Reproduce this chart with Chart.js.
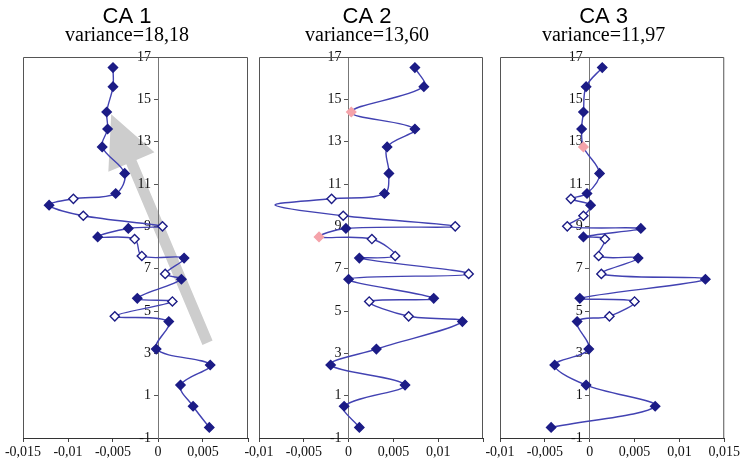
<!DOCTYPE html>
<html>
<head>
<meta charset="utf-8">
<script src="https://cdn.jsdelivr.net/npm/chart.js@4.4.1/dist/chart.umd.min.js"></script>
<style>
body { margin: 0; background: #fff; width: 742px; height: 464px; position: relative; overflow: hidden; }
canvas { position: absolute; top: 0; }
</style>
</head>
<body>
<canvas id="ca1" width="270" height="464" style="left:0px"></canvas>
<canvas id="ca2" width="270" height="464" style="left:235px"></canvas>
<canvas id="ca3" width="266" height="464" style="left:476px"></canvas>
<script>
// sample depths (y), same for the three axes
const depth = [16.5, 15.6, 14.4, 13.6, 12.75, 11.5, 10.55, 10.3, 10.0, 9.5, 9.0, 8.9, 8.5, 8.4,
  7.6, 7.5, 6.75, 6.5, 5.6, 5.45, 4.75, 4.5, 3.2, 2.45, 1.5, 0.5, -0.5];

const ca1 = [-0.0050, -0.0050, -0.0057, -0.0056, -0.0062, -0.0037, -0.0047, -0.0094, -0.0121, -0.0083,
  0.0005, -0.0033, -0.0067, -0.0026, -0.0018, 0.0029, 0.0008, 0.0026, -0.0023, 0.0016,
  -0.0048, 0.0012, -0.0002, 0.0058, 0.0025, 0.0039, 0.0057];
const ca2 = [0.0074, 0.0084, 0.0003, 0.0074, 0.0043, 0.0045, 0.0040, -0.0019, -0.0082, -0.0006,
  0.0119, -0.0003, -0.0033, 0.0026, 0.0052, 0.0012, 0.0134, 0.0000, 0.0095, 0.0023,
  0.0067, 0.0127, 0.0031, -0.0020, 0.0063, -0.0005, 0.0012];
const ca3 = [0.0014, -0.0004, -0.0007, -0.0009, -0.0007, 0.0011, -0.0003, -0.0021, 0.0001, -0.0007,
  -0.0025, 0.0057, -0.0007, 0.0017, 0.0010, 0.0054, 0.0013, 0.0129, -0.0011, 0.0050,
  0.0022, -0.0014, -0.0001, -0.0039, -0.0004, 0.0073, -0.0043];

const titles = ['CA 1', 'CA 2', 'CA 3'];
const variances = ['variance=18,18', 'variance=13,60', 'variance=11,97'];
const yTicks = [-1, 1, 3, 5, 7, 9, 11, 13, 15, 17];

// trend arrow on CA 1 (tail, head) in data units
const trendFrom = [0.0055, 3.5];
const trendTo = [-0.0052, 14.3];

// marker kinds per point: f filled, o open, p pink, n none
const kind1 = 'fffffffofooffoofoffooffffff';
const kind2 = 'ffpffffonoofpoofoffooffffff';
const kind3 = 'ffffpffofooffoofoffooffffff';

const navy = '#1c1c86';
const lineBlue = '#4242b2';
const pink = '#f5a3aa';

function fmt(v) {
  const r = Math.round(v * 1000) / 1000;
  return r === 0 ? '0' : String(r).replace('.', ',');
}

const titlePlugin = {
  id: 'panelTitle',
  afterDraw(chart, args, opts) {
    const ctx = chart.ctx;
    const a = chart.chartArea;
    const cx = (a.left + a.right) / 2 + opts.shift;
    ctx.save();
    ctx.fillStyle = '#000';
    ctx.textAlign = 'center';
    ctx.textBaseline = 'alphabetic';
    ctx.font = '22px "Liberation Sans"';
    ctx.fillText(opts.title, cx, 23);
    ctx.font = '20px "Liberation Serif"';
    ctx.fillText(opts.subtitle, cx, 41);
    ctx.restore();
  }
};

const framePlugin = {
  id: 'frame',
  beforeDatasetsDraw(chart) {
    const ctx = chart.ctx;
    const a = chart.chartArea;
    ctx.save();
    ctx.strokeStyle = '#555';
    ctx.lineWidth = 1;
    ctx.beginPath();
    ctx.moveTo(a.left + 0.5, a.bottom);
    ctx.lineTo(a.left + 0.5, a.top + 0.5);
    ctx.lineTo(a.right - 0.5, a.top + 0.5);
    ctx.lineTo(a.right - 0.5, a.bottom);
    ctx.stroke();
    ctx.restore();
  }
};

// drawn before the scales so the axis labels stay on top of it
const arrowPlugin = {
  id: 'trendArrow',
  beforeDraw(chart, args, opts) {
    if (!opts.show) return;
    const xs = chart.scales.x, ys = chart.scales.y;
    const x0 = xs.getPixelForValue(trendFrom[0]), y0 = ys.getPixelForValue(trendFrom[1]);
    const x1 = xs.getPixelForValue(trendTo[0]), y1 = ys.getPixelForValue(trendTo[1]);
    const len = Math.hypot(x1 - x0, y1 - y0);
    const ux = (x1 - x0) / len, uy = (y1 - y0) / len;
    const nx = -uy, ny = ux;
    const head = 52, hw = 25, sw = 5.5;
    const bx = x1 - ux * head, by = y1 - uy * head;
    const ctx = chart.ctx;
    ctx.save();
    ctx.fillStyle = '#cdcdcd';
    ctx.beginPath();
    ctx.moveTo(x0 + nx * sw, y0 + ny * sw);
    ctx.lineTo(bx + nx * sw, by + ny * sw);
    ctx.lineTo(bx + nx * hw, by + ny * hw);
    ctx.lineTo(x1, y1);
    ctx.lineTo(bx - nx * hw, by - ny * hw);
    ctx.lineTo(bx - nx * sw, by - ny * sw);
    ctx.lineTo(x0 - nx * sw, y0 - ny * sw);
    ctx.closePath();
    ctx.fill();
    ctx.restore();
  }
};

function makePanel(id, xs, kinds, idx, xMin, xMax, pad, shift, hideLast) {
  const pts = xs.map((v, i) => ({x: v, y: depth[i]}));
  const bg = [], bc = [], rad = [];
  for (let i = 0; i < pts.length; i++) {
    const k = kinds[i];
    bg.push(k === 'o' ? '#ffffff' : k === 'p' ? pink : navy);
    bc.push(k === 'p' ? pink : navy);
    rad.push(k === 'n' ? 0 : 4.6);
  }
  new Chart(document.getElementById(id), {
    type: 'scatter',
    data: {
      datasets: [{
        data: pts,
        showLine: true,
        borderColor: lineBlue,
        borderWidth: 1.4,
        tension: 0.35,
        pointStyle: 'rectRot',
        pointRadius: rad,
        pointBackgroundColor: bg,
        pointBorderColor: bc,
        pointBorderWidth: 1.4
      }]
    },
    options: {
      responsive: false,
      animation: false,
      events: [],
      layout: {padding: {left: pad[0], right: pad[1], top: 57, bottom: 0}},
      scales: {
        x: {
          type: 'linear',
          position: 'bottom',
          min: xMin,
          max: xMax,
          afterFit(scale) { scale.height = 26; },
          ticks: {
            stepSize: 0.005,
            maxRotation: 0,
            autoSkip: false,
            padding: 2,
            color: '#111',
            font: {family: '"Liberation Serif"', size: 14},
            callback: (v) => (hideLast && Math.abs(v - xMax) < 1e-9) ? '' : fmt(v)
          },
          grid: {display: true, drawOnChartArea: false, tickLength: 4, color: '#444'},
          border: {display: true, color: '#333', width: 1}
        },
        y: {
          type: 'linear',
          position: {x: 0},
          min: -1,
          max: 17,
          afterBuildTicks(scale) { scale.ticks = yTicks.map(v => ({value: v})); },
          ticks: {
            color: '#111',
            font: {family: '"Liberation Serif"', size: 14},
            // centred axis puts the label flush on the axis line, pad it clear of the tick
            callback: (v) => String(v) + '  '
          },
          grid: {display: true, drawOnChartArea: false, tickLength: 4, color: '#555'},
          border: {display: true, color: '#777', width: 1}
        }
      },
      plugins: {
        legend: {display: false},
        tooltip: {enabled: false},
        panelTitle: {title: titles[idx], subtitle: variances[idx], shift: shift},
        trendArrow: {show: idx === 0}
      }
    },
    plugins: [framePlugin, arrowPlugin, titlePlugin]
  });
}

makePanel('ca1', ca1, kind1, 0, -0.015, 0.01, [23, 22], -8.5, true);
makePanel('ca2', ca2, kind2, 1, -0.01, 0.015, [24, 22], -4, true);
makePanel('ca3', ca3, kind3, 2, -0.01, 0.015, [24, 17], -8.5, false);
</script>
</body>
</html>
